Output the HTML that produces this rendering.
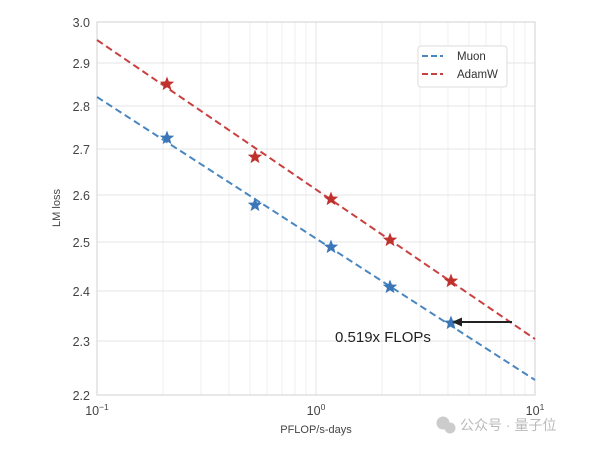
<!DOCTYPE html>
<html><head><style>body{margin:0;background:#fff}svg{display:block}text{font-family:"Liberation Sans","DejaVu Sans",sans-serif}</style></head>
<body>
<svg width="600" height="450" viewBox="0 0 600 450">
<defs><polygon id="st" points="0,-7.5 1.9,-2.5 7.2,-2.3 3.1,1 4.4,6.1 0,3.2 -4.4,6.1 -3.1,1 -7.2,-2.3 -1.9,-2.5"/></defs>
<g stroke="#ececec" stroke-width="0.8">
<line x1="163" y1="22" x2="163" y2="395"/><line x1="201" y1="22" x2="201" y2="395"/><line x1="229" y1="22" x2="229" y2="395"/><line x1="250" y1="22" x2="250" y2="395"/><line x1="267" y1="22" x2="267" y2="395"/><line x1="282" y1="22" x2="282" y2="395"/><line x1="295" y1="22" x2="295" y2="395"/><line x1="306" y1="22" x2="306" y2="395"/>
<line x1="382" y1="22" x2="382" y2="395"/><line x1="420" y1="22" x2="420" y2="395"/><line x1="448" y1="22" x2="448" y2="395"/><line x1="469" y1="22" x2="469" y2="395"/><line x1="486" y1="22" x2="486" y2="395"/><line x1="501" y1="22" x2="501" y2="395"/><line x1="514" y1="22" x2="514" y2="395"/><line x1="525" y1="22" x2="525" y2="395"/>
</g>
<g stroke="#e4e4e4" stroke-width="1">
<line x1="316" y1="22" x2="316" y2="395"/>
<line x1="97" y1="63" x2="535" y2="63"/><line x1="97" y1="106" x2="535" y2="106"/><line x1="97" y1="149" x2="535" y2="149"/><line x1="97" y1="195" x2="535" y2="195"/><line x1="97" y1="242" x2="535" y2="242"/><line x1="97" y1="291" x2="535" y2="291"/><line x1="97" y1="341" x2="535" y2="341"/>
</g>
<rect x="97" y="22" width="438" height="373" fill="none" stroke="#d8d8d8" stroke-width="1.2"/>
<line x1="97" y1="97" x2="535" y2="380" stroke="#4a86c0" stroke-width="2" stroke-dasharray="7,4"/>
<line x1="97" y1="40" x2="535" y2="339" stroke="#c94040" stroke-width="2" stroke-dasharray="7,4"/>
<g fill="#3a76b8"><use href="#st" x="167" y="138"/><use href="#st" x="255" y="205"/><use href="#st" x="331" y="247"/><use href="#st" x="390" y="287"/><use href="#st" x="451" y="323"/></g>
<g fill="#c0302c"><use href="#st" x="167" y="84"/><use href="#st" x="255" y="157"/><use href="#st" x="331" y="199"/><use href="#st" x="390" y="240"/><use href="#st" x="451" y="281"/></g>
<line x1="512" y1="322" x2="460" y2="322" stroke="#222" stroke-width="2"/>
<polygon points="452,322 462,317.5 462,326.5" fill="#222"/>
<text x="335" y="342" font-size="15" fill="#222">0.519x FLOPs</text>
<rect x="418" y="46" width="89" height="41" rx="3" fill="#fff" stroke="#ddd"/>
<line x1="422" y1="56" x2="443" y2="56" stroke="#4a86c0" stroke-width="2" stroke-dasharray="6,3"/>
<line x1="422" y1="74" x2="443" y2="74" stroke="#c94040" stroke-width="2" stroke-dasharray="6,3"/>
<text x="457" y="60" font-size="11.5" fill="#333">Muon</text>
<text x="457" y="78" font-size="11.5" fill="#333">AdamW</text>
<g font-size="12.5" fill="#444" text-anchor="end">
<text x="90" y="27">3.0</text><text x="90" y="68">2.9</text><text x="90" y="111">2.8</text><text x="90" y="154">2.7</text><text x="90" y="200">2.6</text><text x="90" y="247">2.5</text><text x="90" y="296">2.4</text><text x="90" y="346">2.3</text><text x="90" y="400">2.2</text>
</g>
<g font-size="12.5" fill="#444" text-anchor="middle">
<text x="97" y="415">10<tspan font-size="8.5" dy="-5">−1</tspan></text>
<text x="316" y="415">10<tspan font-size="8.5" dy="-5">0</tspan></text>
<text x="535" y="415">10<tspan font-size="8.5" dy="-5">1</tspan></text>
</g>
<text x="316" y="433" font-size="11" fill="#444" text-anchor="middle">PFLOP/s-days</text>
<text x="60" y="208" font-size="11" fill="#444" text-anchor="middle" transform="rotate(-90 60 208)">LM loss</text>
<circle cx="443" cy="423" r="6.5" fill="#ccc"/><circle cx="450" cy="428" r="5.5" fill="#ccc"/>
<text x="460" y="430" font-size="14" fill="#bbb" font-family="Liberation Sans, Noto Sans CJK SC, sans-serif">公众号 · 量子位</text>
</svg>
</body></html>
